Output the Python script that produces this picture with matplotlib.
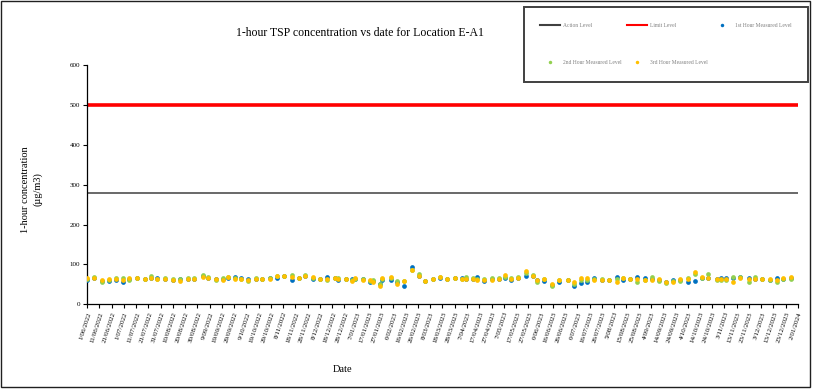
import matplotlib
matplotlib.use("Agg")
import matplotlib.pyplot as plt
from matplotlib.lines import Line2D
from matplotlib.patches import Rectangle
import pandas as pd

plt.rcParams['font.family'] = ['Liberation Serif', 'DejaVu Serif']

# sampling days, counted from 1/06/2022
day_offsets = [0, 6, 12, 18, 24, 29, 34, 41, 47, 52, 57, 64, 70, 76, 82, 87, 95, 99, 105, 111,
               115, 121, 126, 131, 138, 143, 149, 155, 161, 167, 173, 178, 184, 190,
               196, 202, 205, 211, 216, 219, 225, 231, 233, 239, 241, 248, 253, 259, 265, 271,
               276, 282, 288, 294, 300, 306, 309, 315, 318, 324, 330, 336, 341, 346, 352, 358,
               364, 367, 373, 379,
               385, 392, 397, 403, 408, 414, 420, 426, 432, 437, 443, 449, 455, 461, 467, 472,
               478, 484, 490, 496, 502, 507, 514, 517, 521, 527, 533, 540, 545, 551, 557, 563,
               568, 574]
hour1 = [61, 66, 59, 58, 62, 57, 63, 65, 63, 67, 66, 63, 60, 63, 63, 64, 71, 66, 64, 64,
         66, 68, 66, 63, 64, 64, 67, 67, 70, 62, 66, 70, 63, 64,
         68, 66, 62, 64, 63, 63, 63, 57, 58, 50, 60, 62, 57, 47, 93, 72, 58, 63, 66, 64,
         66, 66, 64, 63, 68, 58, 63, 64, 66, 60, 66, 72, 72, 60, 58, 48,
         55, 62, 47, 53, 55, 65, 60, 62, 68, 61, 63, 68, 65, 63, 60, 57, 60, 60, 55, 58,
         66, 65, 63, 65, 65, 65, 68, 66, 63, 64, 60, 65, 63, 65]
hour2 = [63, 68, 57, 62, 65, 65, 62, 66, 63, 70, 64, 65, 64, 63, 66, 65, 73, 68, 62, 66,
         69, 66, 63, 59, 65, 64, 65, 72, 70, 73, 66, 73, 66, 63,
         62, 66, 65, 64, 61, 64, 63, 59, 60, 51, 63, 65, 58, 58, 85, 75, 59, 63, 68, 64,
         66, 64, 68, 66, 64, 63, 66, 66, 68, 66, 68, 78, 73, 57, 64, 47,
         61, 61, 51, 60, 61, 63, 63, 61, 63, 65, 63, 55, 60, 68, 58, 53, 58, 58, 66, 76,
         66, 75, 62, 61, 60, 68, 68, 57, 68, 63, 60, 57, 64, 63]
hour3 = [65, 65, 60, 64, 63, 62, 65, 65, 63, 66, 63, 63, 62, 59, 64, 64, 69, 67, 63, 60,
         68, 64, 63, 62, 64, 63, 64, 70, 70, 68, 66, 72, 68, 63,
         64, 65, 64, 64, 59, 66, 62, 60, 55, 46, 66, 68, 52, 59, 87, 72, 59, 63, 68, 64,
         66, 63, 64, 64, 62, 62, 62, 63, 73, 64, 66, 83, 72, 60, 63, 50,
         60, 60, 55, 65, 66, 60, 61, 62, 57, 66, 63, 63, 61, 60, 63, 57, 55, 63, 63, 80,
         68, 66, 63, 63, 63, 55, 65, 63, 63, 63, 63, 61, 65, 69]
action_level = 280
limit_level = 500

start = pd.Timestamp('2022-06-01')
end = pd.Timestamp('2024-01-02')
dates = start + pd.to_timedelta(day_offsets, unit='D')
tick_dates = pd.date_range(start, end, freq='10D')
tick_labels = [f"{d.day}/{d.month:02d}/{d.year}" for d in tick_dates]

fig = plt.figure(figsize=(8.13, 3.92), dpi=100)
ax = fig.add_axes([0.107, 0.2237, 0.8745, 0.6105])

ax.axhline(action_level, color='#404040', lw=1.1, zorder=1)
ax.axhline(limit_level, color='#ff0000', lw=2.6, zorder=1)
ax.plot(dates, hour1, 'o', color='#0070C0', ms=3.4, mew=0, zorder=3)
ax.plot(dates, hour2, 'o', color='#92D050', ms=3.4, mew=0, zorder=4)
ax.plot(dates, hour3, 'o', color='#FFC000', ms=3.4, mew=0, zorder=5)

ax.set_xlim(start, end)
ax.set_ylim(0, 600)
ax.set_yticks(range(0, 601, 100))
ax.set_xticks(tick_dates)
ax.set_xticklabels(tick_labels, rotation=72, ha='right', va='top',
                   rotation_mode='anchor', fontsize=5)
ax.tick_params(axis='y', labelsize=5, length=3, width=0.8, pad=2)
ax.tick_params(axis='x', length=3, width=0.8, pad=2)
for s in ['top', 'right']:
    ax.spines[s].set_visible(False)
for s in ['left', 'bottom']:
    ax.spines[s].set_linewidth(0.9)

ax.set_ylabel("1-hour concentration\n(\u00b5g/m3)", fontsize=7.5, linespacing=1.4)
ax.yaxis.set_label_coords(-0.062, 0.48)
ax.set_xlabel("Date", fontsize=7.5)
ax.xaxis.set_label_coords(0.359, -0.255)
fig.text(0.443, 0.916, "1-hour TSP concentration vs date for Location E-A1",
         ha='center', va='center', fontsize=8.5)

handles = [Line2D([], [], color='#404040', lw=1.5),
           Line2D([], [], ls='', marker='o', color='#92D050', ms=2.5, mew=0),
           Line2D([], [], color='#ff0000', lw=1.5),
           Line2D([], [], ls='', marker='o', color='#FFC000', ms=2.5, mew=0),
           Line2D([], [], ls='', marker='o', color='#0070C0', ms=2.5, mew=0)]
labels = ["Action Level", "2nd Hour Measured Level", "Limit Level",
          "3rd Hour Measured Level", "1st Hour Measured Level"]
leg = fig.legend(handles, labels, ncol=3, loc='upper left',
                 bbox_to_anchor=(524 / 813, 1 - 11 / 392, 284 / 813, 0.01),
                 mode='expand', borderaxespad=0, fontsize=4, labelcolor='#808080',
                 fancybox=False, edgecolor='#404040', framealpha=1,
                 borderpad=2.9, labelspacing=5.8, handlelength=3.6, handletextpad=0.5,
                 columnspacing=3.5)
leg.get_frame().set_linewidth(1.4)

fig.patches.append(Rectangle((1 / 813, 1 - 387 / 392), 809 / 813, 386 / 392,
                             transform=fig.transFigure, fill=False,
                             edgecolor='#202020', lw=1.0))

fig.savefig('out.png', dpi=100)
